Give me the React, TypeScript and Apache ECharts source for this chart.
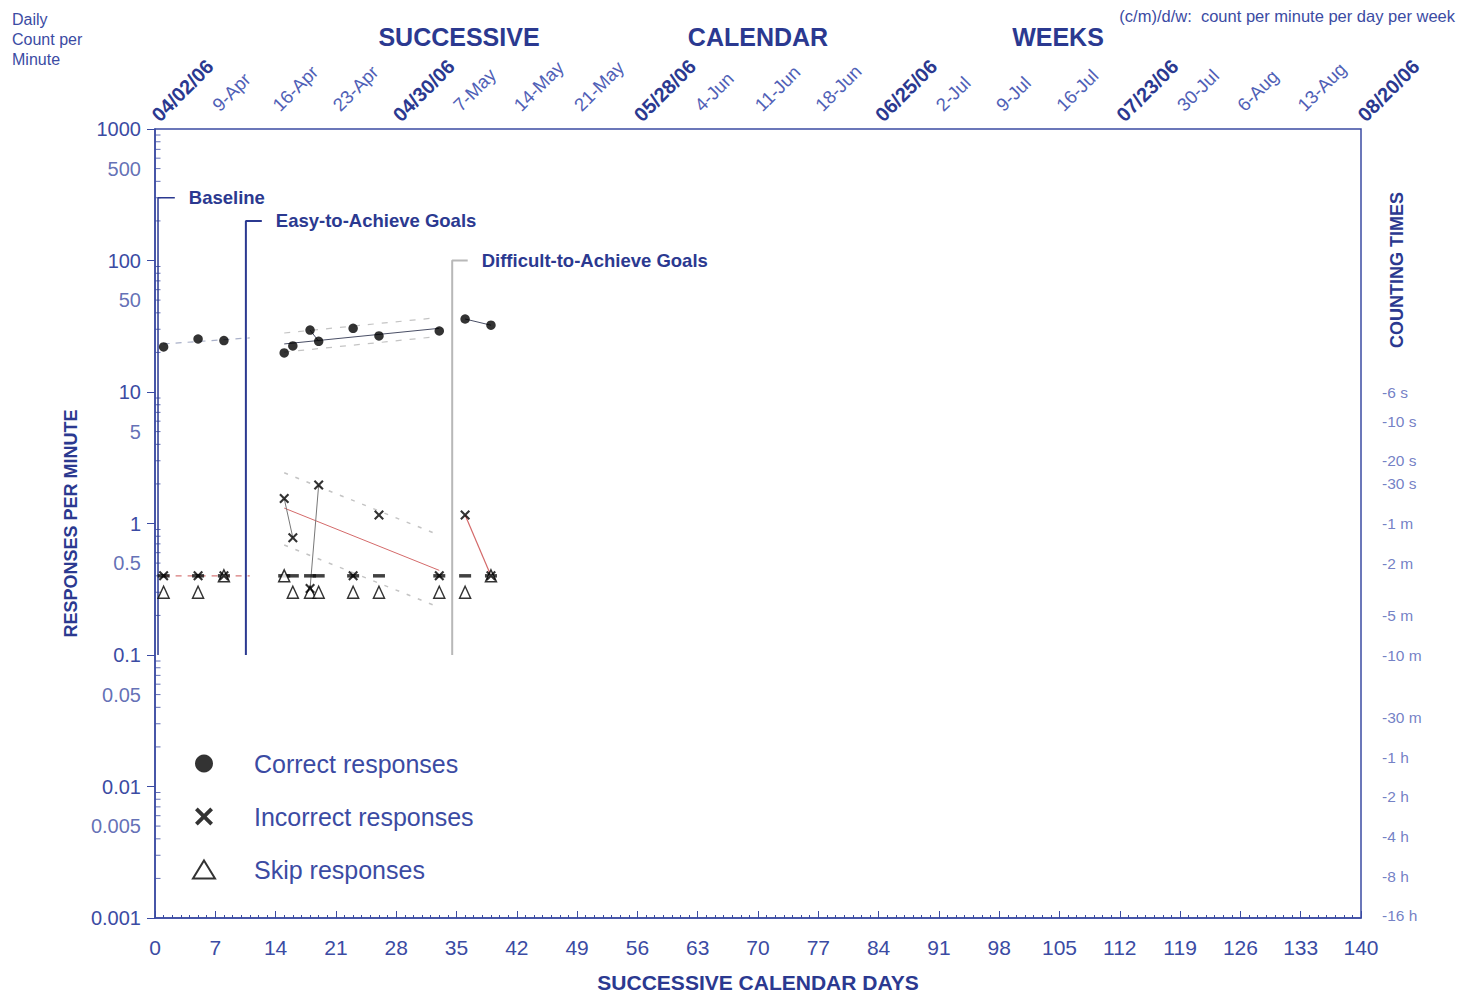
import React, { useEffect, useRef } from "react";
import * as echarts from "echarts";

// ---------- data ----------
const sessionDays = [1, 5, 8, 15, 16, 18, 19, 23, 26, 33, 36, 39];
const correctRates = [22, 25.3, 24.6, 19.8, 22.4, 29.6, 24.3, 30.5, 26.7, 29.1, 35.9, 32.2];
const incorrectRates = [0.4, 0.4, 0.4, 1.55, 0.78, 0.32, 1.96, 0.4, 1.16, 0.4, 1.16, 0.4];
const skipRates = [0.3, 0.3, 0.4, 0.4, 0.3, 0.3, 0.3, 0.3, 0.3, 0.3, 0.3, 0.4];
const recordFloor = 0.4;

const weekLabels = [
  "04/02/06", "9-Apr", "16-Apr", "23-Apr", "04/30/06", "7-May", "14-May", "21-May",
  "05/28/06", "4-Jun", "11-Jun", "18-Jun", "06/25/06", "2-Jul", "9-Jul", "16-Jul",
  "07/23/06", "30-Jul", "6-Aug", "13-Aug", "08/20/06",
];

const halfDecadeLabels = [500, 50, 5, 0.5, 0.05, 0.005];
const decades = [0.001, 0.01, 0.1, 1, 10, 100];
const minorMultipliers = [2, 3, 4, 5, 6, 7, 8, 9];

const countingTimeLabels = ["-6 s", "-10 s", "-20 s", "-30 s", "-1 m", "-2 m", "-5 m", "-10 m", "-30 m", "-1 h", "-2 h", "-4 h", "-8 h", "-16 h"];
const countingTimeRates = [10, 6, 3, 2, 1, 0.5, 0.2, 0.1, 1 / 30, 1 / 60, 1 / 120, 1 / 240, 1 / 480, 1 / 960];

// phase lines
const phaseNames = ["Baseline", "Easy-to-Achieve Goals", "Difficult-to-Achieve Goals"];
const phaseDays = [0.35, 10.55, 34.5];
const phaseTops = [300, 200, 100];
const phaseCapEnds = [2.3, 12.4, 36.3];
const phaseBottom = 0.1;

// celeration / connecting lines
const baselineCorrectCel = [[1, 23.2], [11, 25.8]];
const easyCorrectCel = [[15, 23.2], [33, 30.5]];
const easyCorrectUpper = [[15, 28.1], [32.3, 36.5]];
const easyCorrectLower = [[15, 20.1], [32.3, 26.2]];
const correctLink1 = [[18, 29.6], [19, 24.3]];
const correctLink2 = [[36, 35.9], [39, 32.2]];

const baselineIncorrectCel = [[1, 0.4], [11, 0.4]];
const easyIncorrectCel = [[15, 1.31], [33, 0.44]];
const easyIncorrectUpper = [[15, 2.43], [32.3, 0.85]];
const easyIncorrectLower = [[15, 0.686], [32.3, 0.24]];
const incorrectLink1 = [[15, 1.55], [16, 0.78]];
const incorrectLink2 = [[18, 0.32], [19, 1.96]];
const difficultIncorrectCel = [[36, 1.16], [39, 0.4]];

// ---------- styles ----------
const NAVY = "#2b3990";
const BLUE = "#3b4ba3";
const LIGHT = "#4f60b6";
const FONT = "'Liberation Sans', Arial, Helvetica, sans-serif";
const X_PATH = "path://M1.5,0L5,3.5L8.5,0L10,1.5L6.5,5L10,8.5L8.5,10L5,6.5L1.5,10L0,8.5L3.5,5L0,1.5Z";

function seg(data: number[][], color: string, width: number, type: any = "solid", z = 3) {
  return {
    type: "line",
    data,
    symbol: "none",
    silent: true,
    lineStyle: { color, width, type },
    z,
    legendHoverLink: false,
  };
}

function topAxis(interval: number, margin: number, bold: boolean) {
  return {
    type: "value",
    min: 0,
    max: 140,
    interval,
    position: "top",
    axisLine: { show: false },
    axisTick: { show: false },
    splitLine: { show: false },
    axisLabel: {
      rotate: -45,
      margin,
      fontFamily: FONT,
      fontSize: bold ? 20 : 18.5,
      fontWeight: bold ? "bold" : "normal",
      color: bold ? NAVY : LIGHT,
      formatter: (v: number) => {
        const i = Math.round(v / 7);
        if (!bold && i % 4 === 0) return "";
        return weekLabels[i] ?? "";
      },
    },
  };
}

export default function App() {
  const ref = useRef<HTMLDivElement>(null);

  useEffect(() => {
    const chart = echarts.init(ref.current!, undefined, { renderer: "svg" });

    const zip = (ys: number[]) => sessionDays.map((d, i) => [d, ys[i]]);

    const minorTickData: number[][] = [];
    decades.forEach((d) => minorMultipliers.forEach((m) => minorTickData.push([0, d * m])));

    const phaseSeries = phaseNames.map((name, i) => ({
      type: "line",
      data: [[phaseDays[i], phaseBottom], [phaseDays[i], phaseTops[i]], [phaseCapEnds[i], phaseTops[i]]],
      symbol: "none",
      silent: true,
      lineStyle: { color: i === 2 ? "#b8b8b8" : NAVY, width: i === 0 ? 1.5 : 2 },
      endLabel: {
        show: true,
        formatter: name,
        distance: 14,
        color: NAVY,
        fontWeight: "bold",
        fontSize: 18.5,
        fontFamily: FONT,
      },
      z: 2,
    }));

    const option: any = {
      animation: false,
      backgroundColor: "#ffffff",
      textStyle: { fontFamily: FONT },
      grid: {
        left: 155,
        top: 129,
        width: 1206,
        height: 789,
        outerBoundsMode: "none",
        containLabel: false,
        show: true,
        borderColor: BLUE,
        borderWidth: 1.5,
        backgroundColor: "transparent",
      },
      legend: {
        data: ["Correct responses", "Incorrect responses", "Skip responses"],
        orient: "vertical",
        left: 187,
        top: 746,
        itemWidth: 22,
        itemHeight: 18,
        itemGap: 28,
        selectedMode: false,
        textStyle: { fontSize: 25, color: BLUE, fontFamily: FONT, padding: [0, 0, 0, 34] },
      },
      xAxis: [
        {
          type: "value",
          min: 0,
          max: 140,
          interval: 7,
          position: "bottom",
          axisLine: { show: true, lineStyle: { color: BLUE, width: 1.5 } },
          axisTick: { show: true, inside: true, length: 7, lineStyle: { color: BLUE } },
          minorTick: { show: true, splitNumber: 7, length: 3, lineStyle: { color: BLUE } },
          splitLine: { show: false },
          axisLabel: { fontSize: 21, color: BLUE, margin: 19 },
          name: "SUCCESSIVE CALENDAR DAYS",
          nameLocation: "middle",
          nameGap: 54,
          nameTextStyle: { fontSize: 21, fontWeight: "bold", color: NAVY },
        },
        topAxis(28, 11, true),
        topAxis(7, 21, false),
      ],
      yAxis: {
        type: "log",
        logBase: 10,
        min: 0.001,
        max: 1000,
        axisLine: { show: true, lineStyle: { color: BLUE, width: 1.5 } },
        axisTick: { show: true, length: 8, lineStyle: { color: BLUE } },
        splitLine: { show: false },
        axisLabel: {
          fontSize: 20,
          color: BLUE,
          margin: 14,
          formatter: (v: number) => String(parseFloat(Number(v).toPrecision(6))),
        },
        name: "RESPONSES PER MINUTE",
        nameLocation: "middle",
        nameRotate: 90,
        nameGap: 74,
        nameTextStyle: { fontSize: 18, fontWeight: "bold", color: NAVY },
      },
      graphic: [
        {
          type: "text",
          left: 12,
          top: 9,
          style: { text: "Daily\nCount per\nMinute", fontSize: 16, lineHeight: 20, fill: BLUE, fontFamily: FONT },
        },
        {
          type: "text",
          right: 6,
          top: 7,
          style: { text: "(c/m)/d/w:  count per minute per day per week", fontSize: 16.5, fill: BLUE, fontFamily: FONT },
        },
        ...[["SUCCESSIVE", 459], ["CALENDAR", 758], ["WEEKS", 1058]].map(([t, x]) => ({
          type: "text",
          x: x as number,
          y: 37,
          style: {
            text: t as string,
            fontSize: 25,
            fontWeight: "bold",
            fill: NAVY,
            fontFamily: FONT,
            align: "center",
            verticalAlign: "middle",
          },
        })),
        {
          type: "text",
          x: 1397,
          y: 270,
          rotation: Math.PI / 2,
          style: {
            text: "COUNTING TIMES",
            fontSize: 18,
            fontWeight: "bold",
            fill: NAVY,
            fontFamily: FONT,
            align: "center",
            verticalAlign: "middle",
          },
        },
      ],
      series: [
        {
          type: "scatter",
          data: minorTickData,
          symbol: "rect",
          symbolSize: [5, 1],
          symbolOffset: [3, 0],
          itemStyle: { color: BLUE },
          silent: true,
          z: 1,
        },
        {
          type: "scatter",
          data: halfDecadeLabels.map((v) => [0, v]),
          symbolSize: 0.1,
          itemStyle: { color: "rgba(0,0,0,0)" },
          silent: true,
          label: {
            show: true,
            position: "left",
            distance: 14,
            fontSize: 20,
            color: BLUE,
            formatter: (p: any) => String(p.value[1]),
          },
        },
        {
          type: "scatter",
          data: countingTimeRates.map((v, i) => [140, v, countingTimeLabels[i]]),
          symbolSize: 0.1,
          itemStyle: { color: "rgba(0,0,0,0)" },
          silent: true,
          label: {
            show: true,
            position: "right",
            distance: 21,
            fontSize: 15.5,
            color: LIGHT,
            formatter: (p: any) => p.value[2],
          },
        },
        ...phaseSeries,
        seg(baselineCorrectCel, "#a9b0c8", 1.2, [6, 6]),
        seg(easyCorrectCel, "#4a4f66", 1),
        seg(easyCorrectUpper, "#c4c4c4", 1.2, [6, 8]),
        seg(easyCorrectLower, "#c4c4c4", 1.2, [6, 8]),
        seg(correctLink1, "#4a4f66", 1),
        seg(correctLink2, "#4a4f66", 1),
        seg(baselineIncorrectCel, "#d77a7a", 1.2, [6, 6]),
        seg(easyIncorrectCel, "#d46a6a", 1),
        seg(easyIncorrectUpper, "#c4c4c4", 1.5, [4, 8]),
        seg(easyIncorrectLower, "#c4c4c4", 1.5, [4, 8]),
        seg(incorrectLink1, "#777777", 1),
        seg(incorrectLink2, "#777777", 1),
        seg(difficultIncorrectCel, "#d46a6a", 1.2),
        {
          type: "scatter",
          data: sessionDays.map((d) => [d, recordFloor]),
          symbol: "rect",
          symbolSize: [12, 3.5],
          itemStyle: { color: "#111" },
          silent: true,
          z: 4,
        },
        {
          name: "Correct responses",
          type: "scatter",
          data: zip(correctRates),
          symbol: "circle",
          symbolSize: 9.5,
          itemStyle: { color: "#000" },
          z: 6,
        },
        {
          name: "Incorrect responses",
          type: "scatter",
          data: zip(incorrectRates),
          symbol: X_PATH,
          symbolSize: 10,
          itemStyle: { color: "#000" },
          z: 6,
        },
        {
          name: "Skip responses",
          type: "scatter",
          data: zip(skipRates),
          symbol: "triangle",
          symbolSize: [11, 12],
          itemStyle: { color: "#fff", borderColor: "#000", borderWidth: 1.5 },
          z: 5,
        },
      ],
    };

    chart.setOption(option);
    return () => chart.dispose();
  }, []);

  return (
    <div
      ref={ref}
      style={{ position: "absolute", left: 0, top: 0, width: 1461, height: 995, background: "#fff" }}
    />
  );
}
